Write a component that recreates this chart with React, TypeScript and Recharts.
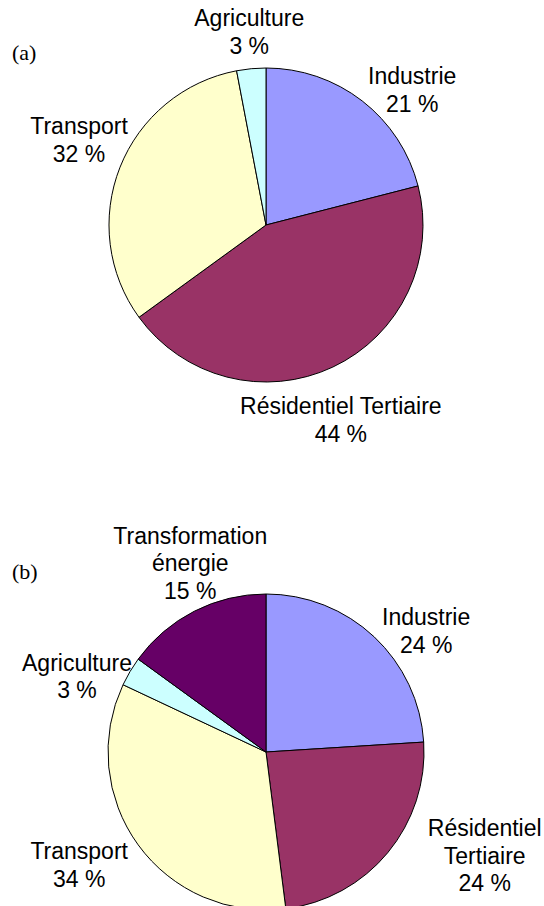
import React from 'react';
import { PieChart, Pie, Cell } from 'recharts';

const namesA = ['Industrie', 'Résidentiel Tertiaire', 'Transport', 'Agriculture'];
const valuesA = [21, 44, 32, 3];
const colorsA = ['#9999FF', '#993366', '#FFFFCC', '#CCFFFF'];

const namesB = ['Industrie', 'Résidentiel\nTertiaire', 'Transport', 'Agriculture', 'Transformation\nénergie'];
const valuesB = [24, 24, 34, 3, 15];
const colorsB = ['#9999FF', '#993366', '#FFFFCC', '#CCFFFF', '#660066'];

const panelLabels = ['(a)', '(b)'];

// label block offsets relative to the slice's mid-angle point on the rim
const labelOffsetsA = [[50, -11], [8, 53], [-41, -27], [-2, -37]];
const labelOffsetsB = [[52, -6], [97, 3], [-59, 20], [-53, 5], [-4, -48]];

const dataA = namesA.map((n, i) => ({ name: n, value: valuesA[i] }));
const dataB = namesB.map((n, i) => ({ name: n, value: valuesB[i] }));

const RAD = Math.PI / 180;
const FONT = '"Liberation Sans", Arial, sans-serif';

const makeLabel = (offsets: number[][], lh: number) => (props: any) => {
  const { cx, cy, midAngle, outerRadius, index, value } = props;
  const name = props.payload?.name ?? props.name;
  const ex = cx + outerRadius * Math.cos(-midAngle * RAD);
  const ey = cy + outerRadius * Math.sin(-midAngle * RAD);
  const [dx, dy] = offsets[index];
  const lines = [...String(name).split('\n'), `${value} %`];
  const x = ex + dx;
  const top = ey + dy - ((lines.length - 1) * lh) / 2;
  return (
    <text
      key={`lbl-${index}`}
      x={x}
      y={top}
      textAnchor="middle"
      dominantBaseline="central"
      fontFamily={FONT}
      fontSize={23}
      fill="#000"
    >
      {lines.map((l, i) => (
        <tspan key={i} x={x} y={top + i * lh} dominantBaseline="central">
          {l}
        </tspan>
      ))}
    </text>
  );
};

export default function App() {
  return (
    <div style={{ position: 'absolute', left: 0, top: 0, width: 544, height: 906, background: '#fff', overflow: 'hidden' }}>
      <PieChart width={544} height={906} margin={{ top: 0, right: 0, bottom: 0, left: 0 }}>
        <Pie
          data={dataA}
          dataKey="value"
          nameKey="name"
          cx={266}
          cy={225}
          outerRadius={157}
          startAngle={90}
          endAngle={-270}
          stroke="#000"
          strokeWidth={1}
          labelLine={false}
          label={makeLabel(labelOffsetsA, 28)}
          isAnimationActive={false}
        >
          {dataA.map((d, i) => (
            <Cell key={d.name} fill={colorsA[i]} stroke="#000" strokeWidth={1} />
          ))}
        </Pie>
        <Pie
          data={dataB}
          dataKey="value"
          nameKey="name"
          cx={266}
          cy={752}
          outerRadius={158}
          startAngle={90}
          endAngle={-270}
          stroke="#000"
          strokeWidth={1}
          labelLine={false}
          label={makeLabel(labelOffsetsB, 27.5)}
          isAnimationActive={false}
        >
          {dataB.map((d, i) => (
            <Cell key={d.name} fill={colorsB[i]} stroke="#000" strokeWidth={1} />
          ))}
        </Pie>
      </PieChart>
      <div style={{ position: 'absolute', left: 12, top: 42, fontFamily: '"Liberation Serif", "Times New Roman", serif', fontSize: 22, lineHeight: '22px' }}>
        {panelLabels[0]}
      </div>
      <div style={{ position: 'absolute', left: 12, top: 561, fontFamily: '"Liberation Serif", "Times New Roman", serif', fontSize: 22, lineHeight: '22px' }}>
        {panelLabels[1]}
      </div>
    </div>
  );
}
